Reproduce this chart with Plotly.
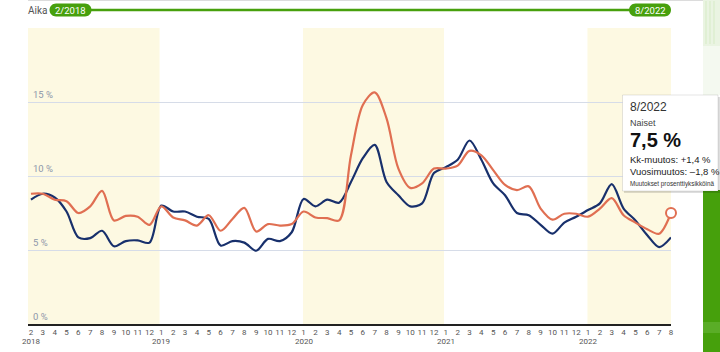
import plotly.graph_objects as go

months = [
    "2018-02", "2018-03", "2018-04", "2018-05", "2018-06", "2018-07", "2018-08", "2018-09", "2018-10", "2018-11", "2018-12",
    "2019-01", "2019-02", "2019-03", "2019-04", "2019-05", "2019-06", "2019-07", "2019-08", "2019-09", "2019-10", "2019-11", "2019-12",
    "2020-01", "2020-02", "2020-03", "2020-04", "2020-05", "2020-06", "2020-07", "2020-08", "2020-09", "2020-10", "2020-11", "2020-12",
    "2021-01", "2021-02", "2021-03", "2021-04", "2021-05", "2021-06", "2021-07", "2021-08", "2021-09", "2021-10", "2021-11", "2021-12",
    "2022-01", "2022-02", "2022-03", "2022-04", "2022-05", "2022-06", "2022-07", "2022-08",
]

miehet = [
    8.4, 8.8, 8.55, 7.6, 5.85, 5.8, 6.3, 5.25, 5.6, 5.65, 5.5,
    8.0, 7.6, 7.6, 7.25, 7.1, 5.3, 5.6, 5.5, 4.95, 5.75, 5.6, 6.2,
    8.45, 7.95, 8.4, 8.2, 9.6, 11.2, 12.1, 9.6, 8.7, 7.95, 8.15, 10.2,
    10.6, 11.1, 12.4, 11.1, 9.5, 8.7, 7.5, 7.35, 6.7, 6.1, 6.85, 7.25,
    7.7, 8.15, 9.45, 7.8, 7.0, 6.0, 5.2, 5.85,
]

naiset = [
    8.8, 8.8, 8.4, 8.3, 7.5, 7.95, 9.0, 7.0, 7.3, 7.25, 6.7,
    7.95, 7.2, 7.0, 6.65, 7.35, 6.3, 7.1, 7.85, 6.25, 6.75, 6.65, 6.75,
    7.6, 7.2, 7.15, 7.0, 11.4, 14.8, 15.65, 13.9, 10.5, 9.2, 9.5, 10.5,
    10.5, 10.7, 11.7, 11.4, 10.4, 9.4, 9.05, 9.3, 7.8, 7.05, 7.45, 7.45,
    7.25, 7.8, 8.5, 7.35, 6.85, 6.4, 6.1, 7.5,
]

y_ticks = [0, 5, 10, 15]
y_ticktext = ["0 %", "5 %", "10 %", "15 %"]
band_years = [2018, 2020, 2022]
range_start_label = "2/2018"
range_end_label = "8/2022"
tooltip_lines = {
    "period": "8/2022",
    "series": "Naiset",
    "value": "7,5 %",
    "kk": "Kk-muutos: +1,4 %",
    "vuosi": "Vuosimuutos: \u20131,8 %",
    "note": "Muutokset prosenttiyksikköinä",
}

xs = list(range(len(months)))
month_text = [str(int(m[5:])) for m in months]
year_pos = [i for i, m in enumerate(months) if i == 0 or m.endswith("-01")]
year_text = [months[i][:4] for i in year_pos]

BLUE = "#18306c"
ORANGE = "#e06f52"
GREEN = "#47a00d"
BAND = "#fdf9e2"

W_FIG, H_FIG = 720, 352
L, R, T, B = 28, 671, 28, 324
PW, PH = R - L, B - T
x_min = -0.25
x_max = len(months) - 1


def PX(x):
    return (x - L) / PW


def DX(x):
    return x_min + (x - L) / PW * (x_max - x_min)


def PY(y):
    return (B - y) / PH


def pill_path(x0, x1, y0, y1):
    r = (y1 - y0) / 2
    k = 0.5523 * r
    ym = (y0 + y1) / 2
    pts = [
        ("M", [(x0 + r, y0)]),
        ("L", [(x1 - r, y0)]),
        ("C", [(x1 - r + k, y0), (x1, ym - k), (x1, ym)]),
        ("C", [(x1, ym + k), (x1 - r + k, y1), (x1 - r, y1)]),
        ("L", [(x0 + r, y1)]),
        ("C", [(x0 + r - k, y1), (x0, ym + k), (x0, ym)]),
        ("C", [(x0, ym - k), (x0 + r - k, y0), (x0 + r, y0)]),
    ]
    s = ""
    for cmd, ps in pts:
        s += cmd + " " + " ".join(f"{DX(a):.5f},{PY(b):.5f}" for a, b in ps) + " "
    return s + "Z"


fig = go.Figure()

fig.add_trace(go.Scatter(
    x=xs, y=miehet, mode="lines", name="Miehet",
    line=dict(color=BLUE, width=2.2, shape="spline", smoothing=0.9),
    hoverinfo="skip",
))
fig.add_trace(go.Scatter(
    x=xs, y=naiset, mode="lines", name="Naiset",
    line=dict(color=ORANGE, width=2.2, shape="spline", smoothing=0.9),
    hoverinfo="skip",
))
fig.add_trace(go.Scatter(
    x=[xs[-1]], y=[naiset[-1]], mode="markers",
    marker=dict(size=10, color="white", line=dict(color=ORANGE, width=2)),
    hoverinfo="skip", cliponaxis=False,
))

shapes = []
for yr in band_years:
    jan = [i for i, m in enumerate(months) if m == f"{yr}-01"]
    nxt = [i for i, m in enumerate(months) if m == f"{yr + 1}-01"]
    x0 = jan[0] - 0.05 if jan else x_min
    x1 = nxt[0] - 0.15 if nxt else x_max
    shapes.append(dict(type="rect", xref="x", yref="paper", x0=x0, x1=x1, y0=0, y1=1,
                       fillcolor=BAND, line=dict(width=0), layer="below"))

# top separator line
shapes.append(dict(type="line", xref="paper", yref="paper", x0=0, x1=PX(720), y0=PY(0.5), y1=PY(0.5),
                   line=dict(color="#dcdcdc", width=1)))
# range slider line + pills
shapes.append(dict(type="line", xref="x", yref="paper", x0=DX(90), x1=DX(630), y0=PY(10), y1=PY(10),
                   line=dict(color=GREEN, width=2.6)))
shapes.append(dict(type="path", xref="x", yref="paper", path=pill_path(49.5, 91.5, 3.5, 16.5),
                   fillcolor=GREEN, line=dict(width=0)))
shapes.append(dict(type="path", xref="x", yref="paper", path=pill_path(629, 671, 3.5, 16.5),
                   fillcolor=GREEN, line=dict(width=0)))

# right page strip
shapes.append(dict(type="rect", xref="paper", yref="paper", x0=PX(703), x1=PX(721), y0=PY(0), y1=PY(46),
                   fillcolor="#eaf4e2", line=dict(width=0)))
for sx in [706, 710, 714]:
    shapes.append(dict(type="line", xref="paper", yref="paper", x0=PX(sx), x1=PX(sx), y0=PY(1), y1=PY(44),
                       line=dict(color="#d6ebc6", width=1)))
shapes.append(dict(type="rect", xref="paper", yref="paper", x0=PX(703), x1=PX(721), y0=PY(46), y1=PY(95),
                   fillcolor="#f4f9f0", line=dict(width=0)))
shapes.append(dict(type="rect", xref="paper", yref="paper", x0=PX(703), x1=PX(721), y0=PY(190), y1=PY(353),
                   fillcolor="#46a00c", line=dict(width=0)))
shapes.append(dict(type="rect", xref="paper", yref="paper", x0=PX(703), x1=PX(721), y0=PY(322), y1=PY(333),
                   fillcolor="#5aad27", line=dict(width=0)))

# tooltip
shapes.append(dict(type="rect", xref="paper", yref="paper", x0=PX(624), x1=PX(720), y0=PY(97), y1=PY(193),
                   fillcolor="rgba(0,0,0,0.13)", line=dict(width=0)))
shapes.append(dict(type="rect", xref="paper", yref="paper", x0=PX(622.5), x1=PX(718), y0=PY(95), y1=PY(191),
                   fillcolor="white", line=dict(color="rgba(0,0,0,0.10)", width=1)))

ann = []
for p, t in zip(year_pos, year_text):
    ann.append(dict(x=p, y=PY(341), xref="x", yref="paper", text=t, showarrow=False,
                    xanchor="center", yanchor="middle", font=dict(family="Roboto", size=8, color="#555")))

for v, t in zip(y_ticks, y_ticktext):
    ann.append(dict(x=PX(30.5), y=v, xref="paper", yref="y", text=t, showarrow=False,
                    xanchor="left", yanchor="bottom", yshift=0,
                    font=dict(family="Roboto", size=9.5, color="#8d97aa")))

ann.append(dict(x=x_min, y=PY(10), xref="x", yref="paper", text="Aika", showarrow=False,
                xanchor="left", yanchor="middle", xshift=-2,
                font=dict(family="Roboto", size=10, color="#555")))
ann.append(dict(x=DX(70.5), y=PY(10), xref="x", yref="paper", text=range_start_label, showarrow=False,
                xanchor="center", yanchor="middle", font=dict(family="Roboto", size=9.5, color="white")))
ann.append(dict(x=DX(650), y=PY(10), xref="x", yref="paper", text=range_end_label, showarrow=False,
                xanchor="center", yanchor="middle", font=dict(family="Roboto", size=9.5, color="white")))

TT = "Liberation Sans"
tx = PX(627.5)
tt = [
    dict(x=tx, y=PY(106.5), text=tooltip_lines["period"], font=dict(family=TT, size=12, color="#333")),
    dict(x=tx, y=PY(122.5), text=tooltip_lines["series"], font=dict(family=TT, size=9, color="#444")),
    dict(x=tx, y=PY(140), text="<b>" + tooltip_lines["value"] + "</b>", font=dict(family=TT, size=20, color="#111")),
    dict(x=tx, y=PY(159), text=tooltip_lines["kk"], font=dict(family=TT, size=9.5, color="#222")),
    dict(x=tx, y=PY(171), text=tooltip_lines["vuosi"], font=dict(family=TT, size=9.5, color="#222")),
    dict(x=tx, y=PY(183.5), text=tooltip_lines["note"], font=dict(family=TT, size=6.3, color="#333")),
]
for a in tt:
    a.update(xref="paper", yref="paper", showarrow=False, xanchor="left", yanchor="middle")
ann += tt

fig.update_layout(
    width=W_FIG, height=H_FIG,
    margin=dict(l=L, r=W_FIG - R, t=T, b=H_FIG - B, autoexpand=False),
    paper_bgcolor="white", plot_bgcolor="white",
    showlegend=False,
    shapes=shapes,
    annotations=ann,
    xaxis=dict(
        range=[x_min, x_max], tickmode="array", tickvals=xs, ticktext=month_text,
        tickangle=0, ticks="", showgrid=False, zeroline=False, automargin=False,
        showline=True, linecolor="#222", linewidth=2, ticklabelstandoff=-1,
        tickfont=dict(family="Roboto", size=8, color="#555"),
    ),
    yaxis=dict(
        range=[0, 20], tickmode="array", tickvals=y_ticks, showticklabels=False,
        ticks="", showgrid=True, gridcolor="#d6dce8", gridwidth=1, automargin=False,
        zeroline=False, showline=False,
    ),
)

fig.write_html("out.html")
